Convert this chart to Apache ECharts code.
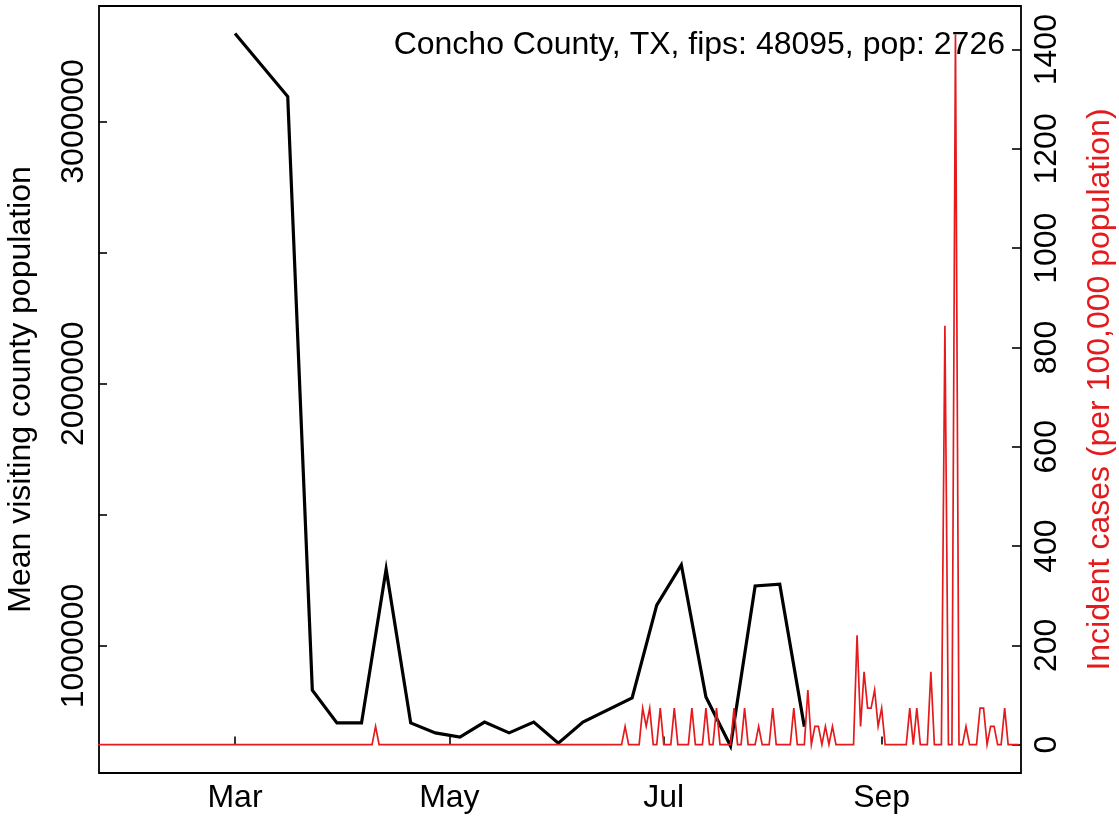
<!DOCTYPE html>
<html><head><meta charset="utf-8">
<script src="https://cdn.jsdelivr.net/npm/echarts@6/dist/echarts.min.js"></script>
<style>html,body{margin:0;padding:0;background:#fff}#c{width:1119px;height:822px}</style>
</head><body><div id="c"></div><script>
// ---- data ----
const titleText = 'Concho County, TX, fips: 48095, pop: 2726';
const leftAxisName = 'Mean visiting county population';
const rightAxisName = 'Incident cases (per 100,000 population)';

// weekly mean visiting county population (black)
const visitDates = ['2020-03-01','2020-03-16','2020-03-23','2020-03-30','2020-04-06','2020-04-13','2020-04-20','2020-04-27','2020-05-04','2020-05-11','2020-05-18','2020-05-25','2020-06-01','2020-06-08','2020-06-22','2020-06-29','2020-07-06','2020-07-13','2020-07-20','2020-07-27','2020-08-03','2020-08-10'];
const visitValues = [3335000,3095000,832000,707000,707000,1293000,707000,669000,653000,710000,669000,710000,630000,710000,802000,1156000,1309000,806000,619000,1229000,1236000,692000];

// daily incident cases per 100,000 (red), starting 2020-01-22
const casesStart = '2020-01-22';
const casesJan = [0,0,0,0,0,0,0,0,0,0];
const casesFeb = [0,0,0,0,0,0,0,0,0,0, 0,0,0,0,0,0,0,0,0,0, 0,0,0,0,0,0,0,0,0];
const casesMar = [0,0,0,0,0,0,0,0,0,0, 0,0,0,0,0,0,0,0,0,0, 0,0,0,0,0,0,0,0,0,0, 0];
const casesApr = [0,0,0,0,0,0,0,0,0,36.7, 0,0,0,0,0,0,0,0,0,0, 0,0,0,0,0,0,0,0,0,0];
const casesMay = [0,0,0,0,0,0,0,0,0,0, 0,0,0,0,0,0,0,0,0,0, 0,0,0,0,0,0,0,0,0,0, 0];
const casesJun = [0,0,0,0,0,0,0,0,0,0, 0,0,0,0,0,0,0,0,0,36.7, 0,0,0,0,73.4,36.7,73.4,0,0,73.4];
const casesJul = [0,0,0,73.4,0,0,0,0,73.4,0, 0,0,73.4,0,0,73.4,0,0,0,0, 73.4,0,0,73.4,0,0,0,36.7,0,0, 0];
const casesAug = [73.4,0,0,0,0,0,73.4,0,0,0, 110.1,0,36.7,36.7,0,36.7,0,36.7,0,0, 0,0,0,0,220.1,36.7,146.7,73.4,73.4,110.1, 36.7];
const casesSep = [73.4,0,0,0,0,0,0,0,73.4,0, 73.4,0,0,0,146.7,0,0,0,843.7,0, 0,1430.7,0,0,36.7,0,0,0,73.4,73.4];
const casesOct = [0,36.7,36.7,0,0,73.4,0,0,0,0];

// axis ticks
const xTickDates = ['2020-03-01','2020-05-01','2020-07-01','2020-09-01'];
const xTickLabels = ['Mar','May','Jul','Sep'];
const leftTicks = [1000000,1500000,2000000,2500000,3000000];
const leftLabels = [1000000,2000000,3000000];
const rightTicks = [0,200,400,600,800,1000,1200,1400];

// ---- build ----
const DAY = 86400000;
function ts(s){const p=s.split('-').map(Number);return Date.UTC(p[0],p[1]-1,p[2]);}
const blackData = visitDates.map((d,i)=>[ts(d),visitValues[i]]);
const casesAll = [].concat(casesJan,casesFeb,casesMar,casesApr,casesMay,casesJun,casesJul,casesAug,casesSep,casesOct);
const t0 = ts(casesStart);
const redData = casesAll.map((v,i)=>[t0+i*DAY,v]);
const xTickTs = xTickDates.map(ts);
const xLabelMap = {}; xTickTs.forEach((t,i)=>xLabelMap[t]=xTickLabels[i]);

const FONT = 'Liberation Sans, Arial, Helvetica, sans-serif';
const FS = 32;
const RED = '#e41a1c';
const mar1 = ts('2020-03-01');

const chart = echarts.init(document.getElementById('c'), null, {renderer:'canvas'});
chart.setOption({
  animation:false,
  backgroundColor:'#fff',
  textStyle:{fontFamily:FONT},
  title:{text:titleText,right:114,top:29,padding:0,
    textStyle:{fontSize:FS,fontWeight:'normal',color:'#000',fontFamily:FONT}},
  grid:{left:99,right:98,top:6,bottom:49,show:true,borderColor:'#000',borderWidth:1.8,
    backgroundColor:'transparent',containLabel:false,outerBoundsMode:'none'},
  xAxis:{type:'value',min:mar1-38.7*DAY,max:mar1+223.65*DAY,
    axisLine:{show:false},
    splitLine:{show:false},
    axisTick:{show:true,inside:true,length:8,customValues:xTickTs,lineStyle:{color:'#000',width:1.6}},
    axisLabel:{customValues:xTickTs,formatter:v=>xLabelMap[v]||'',fontSize:FS,color:'#000',fontFamily:FONT,margin:9}
  },
  yAxis:[
    {type:'value',position:'left',min:516000,max:3440000,
      name:leftAxisName,nameLocation:'middle',nameGap:62,nameRotate:90,
      nameTextStyle:{fontSize:FS,color:'#000',fontFamily:FONT},
      axisLine:{show:false},splitLine:{show:false},
      axisTick:{show:true,inside:true,length:8,customValues:leftTicks,lineStyle:{color:'#000',width:1.6}},
      axisLabel:{customValues:leftLabels,rotate:90,formatter:v=>String(v),fontSize:FS,color:'#000',fontFamily:FONT,margin:9}
    },
    {type:'value',position:'right',min:-57.2,max:1487.9,
      name:rightAxisName,nameLocation:'middle',nameGap:63,nameRotate:90,
      nameTextStyle:{fontSize:FS,color:RED,fontFamily:FONT},
      axisLine:{show:false},splitLine:{show:false},
      axisTick:{show:true,inside:true,length:9,customValues:rightTicks,lineStyle:{color:'#000',width:1.6}},
      axisLabel:{customValues:rightTicks,rotate:90,formatter:v=>String(v),fontSize:FS,color:'#000',fontFamily:FONT,margin:10}
    }
  ],
  series:[
    {type:'line',data:blackData,xAxisIndex:0,yAxisIndex:0,showSymbol:false,symbol:'none',
      lineStyle:{color:'#000',width:3.2,join:'miter'},itemStyle:{color:'#000'},clip:true},
    {type:'line',data:redData,xAxisIndex:0,yAxisIndex:1,showSymbol:false,symbol:'none',
      lineStyle:{color:RED,width:1.7,join:'miter'},itemStyle:{color:RED},clip:true}
  ]
});
</script></body></html>
